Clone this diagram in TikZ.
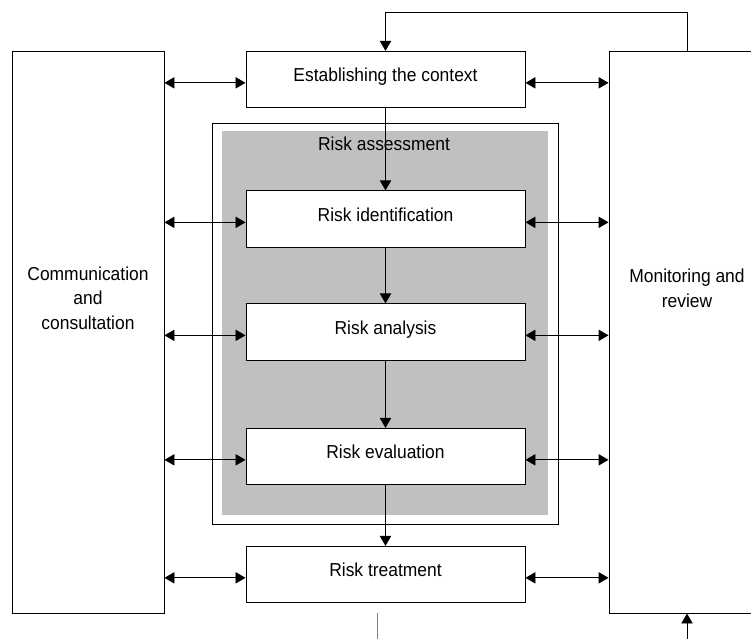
\documentclass[tikz,border=0pt]{standalone}
\usepackage{fontspec}
\setmainfont{Liberation Sans}[FakeStretch=0.93]
\usetikzlibrary{arrows.meta}
\definecolor{shade}{RGB}{192,192,192}
\begin{document}
\begin{tikzpicture}[x=0.03cm,y=-0.03cm,
    stage/.style={draw=black,line width=0.8pt,fill=white,minimum width=8.37cm,
      inner xsep=0pt,inner ysep=0pt,text height=26pt,text depth=22pt,
      font=\fontsize{16}{21}\selectfont},
    side/.style={draw=black,line width=0.8pt,minimum height=16.86cm},
    lbl/.style={align=center,font=\fontsize{16}{21}\selectfont},
    flow/.style={-{Triangle[length=3mm,width=3.4mm]},line width=0.8pt},
    both/.style={{Triangle[length=3mm,width=3.4mm]}-{Triangle[length=3mm,width=3.4mm]},line width=0.8pt}]
  \useasboundingbox (0,0) rectangle (751,638);
  \clip (0,0) rectangle (751,638);
  % side boxes
  \node[side,minimum width=4.56cm] (comm) at (88,332) {};
  \node[side,minimum width=4.68cm] (mon) at (687,332) {};
  \node[lbl] (commtxt) at (88,298) {Communication\\and\\consultation};
  \node[lbl] (montxt) at (687,288) {Monitoring and\\review};
  % assessment frame
  \node[draw=black,line width=0.8pt,minimum width=10.38cm,minimum height=12.03cm] (frame) at (385,323.5) {};
  \node[fill=shade,minimum width=9.78cm,minimum height=11.52cm] (inner) at (385,323) {};
  \node[lbl] (assess) at (384,144) {Risk assessment};
  % process steps
  \node[stage] (ctx) at (385.5,79.5) {Establishing the context};
  \node[stage] (ident) at (385.5,219) {Risk identification};
  \node[stage] (anal) at (385.5,332) {Risk analysis};
  \node[stage] (eval) at (385.5,456.5) {Risk evaluation};
  \node[stage] (treat) at (385.5,574.5) {Risk treatment};
  \path [flow] (ctx) edge (ident);
  \path [flow] (ident) edge (anal);
  \path [flow] (anal) edge (eval);
  \path [flow] (eval) edge (treat);
  % links to the side boxes
  \foreach \s in {ctx,ident,anal,eval,treat} {
    \path [both] ([yshift=-1mm]\s.west -| comm.east) edge ([yshift=-1mm]\s.west);
    \path [both] ([yshift=-1mm]\s.east) edge ([yshift=-1mm]\s.east -| mon.west);
  }
  % feedback
  \draw [flow] (mon.north) -- ++(0,-38) -| (ctx.north);
  \coordinate (cutl) at (377,613);
  \coordinate (cutlb) at (377,650);
  \coordinate (cutr) at (687,650);
  \draw [gray,line width=0.8pt] (cutl) -- (cutlb);
  \draw [flow] (cutr) -- (mon.south);
\end{tikzpicture}
\end{document}
